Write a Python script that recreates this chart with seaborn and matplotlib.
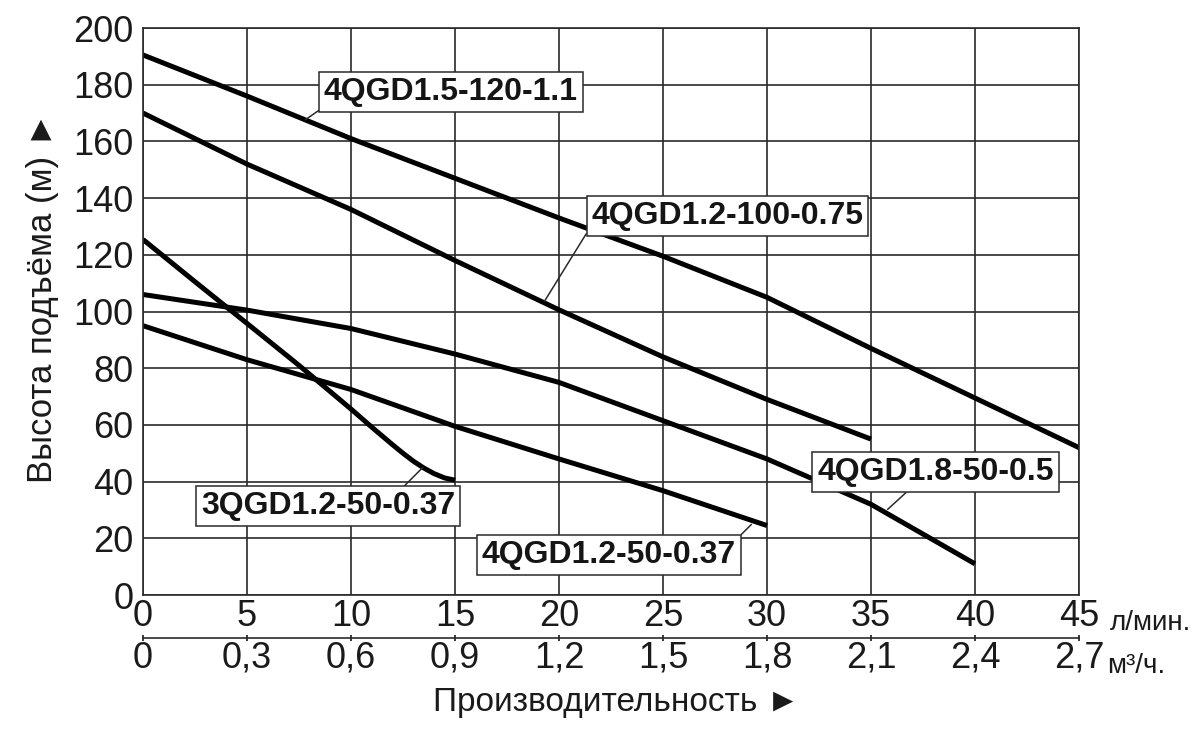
import pandas as pd
import matplotlib
matplotlib.use("Agg")
import matplotlib.pyplot as plt
from matplotlib import font_manager
import seaborn as sns

# --- data (Q in l/min, H in m) ---
q_15_120 = [0, 5, 10, 15, 20, 25, 30, 35, 40, 45]
h_15_120 = [190.5, 176, 161, 147, 133, 119.5, 105, 87, 69.5, 52]

q_12_100 = [0, 5, 10, 15, 20, 25, 30, 35]
h_12_100 = [170, 152, 136, 118, 100.6, 84, 69, 55]

q_18_50 = [0, 5, 10, 15, 20, 25, 30, 35, 37.5, 40]
h_18_50 = [106, 100.5, 94, 85, 75, 61.5, 48, 32, 21.5, 11]

q_12_50 = [0, 5, 10, 15, 20, 25, 30]
h_12_50 = [95, 83, 72.5, 59.5, 48, 36.8, 24.5]

q_3q = [0, 2.5, 5, 7.5, 10, 11, 12, 12.5, 13, 13.5, 14, 14.5, 15]
h_3q = [125.4, 110.5, 95.8, 81, 65.6, 59.2, 53, 50, 47.2, 44.8, 42.8, 41.3, 40.5]

models = ["4QGD1.5-120-1.1", "4QGD1.2-100-0.75", "4QGD1.8-50-0.5",
          "4QGD1.2-50-0.37", "3QGD1.2-50-0.37"]
curves = [(q_15_120, h_15_120), (q_12_100, h_12_100), (q_18_50, h_18_50),
          (q_12_50, h_12_50), (q_3q, h_3q)]

# label box centres and the curve points their leader lines go to
label_xy = [(14.8, 177.5), (28.1, 133.6), (38.1, 43.3), (22.4, 14.2), (8.9, 31.4)]
leader_xy = [(7.8, 167.6), (19.3, 103.6), (35.8, 30.2), (29.25, 24.9), (13.45, 45.0)]
leader_rel = [(0, 0), (0, 0.2), (0.4, 0), (1, 1), (0.78, 1)]

x_ticks = [0, 5, 10, 15, 20, 25, 30, 35, 40, 45]
y_ticks = [0, 20, 40, 60, 80, 100, 120, 140, 160, 180, 200]
m3_ticks = [0, 0.3, 0.6, 0.9, 1.2, 1.5, 1.8, 2.1, 2.4, 2.7]
m3_labels = ["0", "0,3", "0,6", "0,9", "1,2", "1,5", "1,8", "2,1", "2,4", "2,7"]

rows = []
for name, (qs, hs) in zip(models, curves):
    for q, h in zip(qs, hs):
        rows.append({"Q": q, "H": h, "model": name})
df = pd.DataFrame(rows)

sns.set_theme(style="white")
names = {f.name for f in font_manager.fontManager.ttflist}
thin = "Liberation Sans Narrow" if "Liberation Sans Narrow" in names else "Liberation Sans"
plt.rcParams["font.family"] = [thin, "DejaVu Sans"]

fig = plt.figure(figsize=(12.01, 7.30), dpi=100)
ax = fig.add_axes([0.1191, 0.1849, 0.7793, 0.7767])

sns.lineplot(data=df, x="Q", y="H", units="model", estimator=None, sort=False,
             color="black", lw=3.6, legend=False, ax=ax, solid_capstyle="butt")

ax.set_xlim(0, 45)
ax.set_ylim(0, 200)
ax.set_xticks(x_ticks)
ax.set_yticks(y_ticks)
ax.grid(True, color="#2a2a2a", lw=1.2)
ax.set_axisbelow(True)
for s in ax.spines.values():
    s.set_color("#2a2a2a")
    s.set_linewidth(1.2)

ax.tick_params(axis="both", length=0, labelsize=26, colors="#1a1a1a")
ax.tick_params(axis="x", pad=3)
ax.tick_params(axis="y", pad=7)

# bottom axis in m3/h
sec = ax.secondary_xaxis(-0.0758, functions=(lambda x: x * 0.06, lambda x: x / 0.06))
sec.set_xticks(m3_ticks)
sec.set_xticklabels(m3_labels)
sec.tick_params(axis="x", direction="inout", length=5, width=1.2, pad=-0.5,
                labelsize=26, colors="#1a1a1a")
sec.spines["bottom"].set_color("#2a2a2a")
sec.spines["bottom"].set_linewidth(1.2)

ax.set_xlabel("Производительность ►", fontsize=24, color="#1a1a1a")
ax.xaxis.set_label_coords(0.506, -0.162)
ax.set_ylabel("Высота подъёма (м) ►", fontsize=25, color="#1a1a1a")
ax.yaxis.set_label_coords(-0.09, 0.525)

fig.text(0.924, 0.137, "л/мин.", fontsize=20, color="#1a1a1a", va="baseline")
fig.text(0.922, 0.078, "м³/ч.", fontsize=20, color="#1a1a1a", va="baseline")

for name, (tx, ty), (lx, ly), rel in zip(models, label_xy, leader_xy, leader_rel):
    ax.annotate(name, xy=(lx, ly), xytext=(tx, ty), ha="center", va="center",
                fontsize=23, fontweight="bold", family="Liberation Sans",
                color="#151515",
                bbox=dict(boxstyle="square,pad=0.15", fc="white", ec="#2a2a2a", lw=1.1),
                arrowprops=dict(arrowstyle="-", color="#2a2a2a", lw=1.1,
                                relpos=rel, shrinkA=0, shrinkB=0),
                zorder=5)

fig.savefig("out.png", dpi=100)
